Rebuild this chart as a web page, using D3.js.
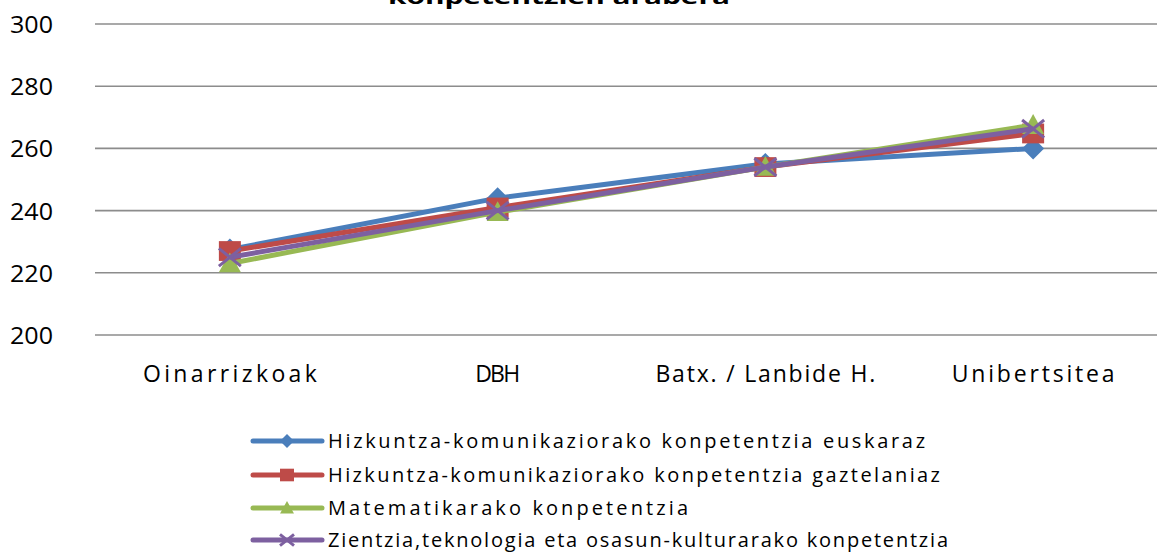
<!DOCTYPE html>
<html>
<head>
<meta charset="utf-8">
<script src="https://cdn.jsdelivr.net/npm/d3@7"></script>
<style>
  body { margin: 0; background: #fff; }
  text { font-family: "Open Sans", "Noto Sans", sans-serif; fill: #000; }
</style>
</head>
<body>
<div id="chart"></div>
<script>
const categories = ['Oinarrizkoak', 'DBH', 'Batx. / Lanbide H.', 'Unibertsitea']
const seriesNames = [
    'Hizkuntza-komunikaziorako konpetentzia euskaraz',
    'Hizkuntza-komunikaziorako konpetentzia gaztelaniaz',
    'Matematikarako konpetentzia',
    'Zientzia,teknologia eta osasun-kulturarako konpetentzia'
]
const euskaraz = [227.5, 244, 255, 260]
const gaztelaniaz = [227, 241, 254, 264.8]
const matematika = [223, 239.5, 254, 267.5]
const zientzia = [225, 240, 254, 266.3]
const yTicks = [200, 220, 240, 260, 280, 300]
const title = 'konpetentzien arabera'

const colors = ['#4a7ebb', '#be4b48', '#98b954', '#7d60a0']
const markers = ['diamond', 'square', 'triangle', 'cross']
const allSeries = [euskaraz, gaztelaniaz, matematika, zientzia]

const width = 1157, height = 554
const svg = d3.select('#chart').append('svg')
    .attr('width', width)
    .attr('height', height)

const x = d3.scaleBand().domain(categories).range([96, 1167])
const y = d3.scaleLinear().domain([200, 300]).range([335, 24])

// title (only its lower part shows)
svg.append('text')
    .attr('x', 559)
    .attr('y', 4)
    .attr('text-anchor', 'middle')
    .style('font-size', '20px')
    .style('font-weight', 'bold')
    .attr('textLength', 342)
    .attr('lengthAdjust', 'spacingAndGlyphs')
    .text(title)

// grid
svg.append('g')
    .selectAll('line')
    .data(yTicks)
    .join('line')
    .attr('x1', 95)
    .attr('x2', width)
    .attr('y1', d => y(d))
    .attr('y2', d => y(d))
    .attr('stroke', '#8c8c8c')
    .attr('stroke-width', 1.6)

// y axis labels
const yAxis = d3.axisLeft(y).tickValues(yTicks).tickSize(0).tickPadding(0)
svg.append('g')
    .attr('transform', 'translate(53,0)')
    .call(yAxis)
    .call(g => g.select('.domain').remove())
    .selectAll('text')
    .style('font-size', '24px')
    .style('font-family', '"Open Sans", sans-serif')
    .attr('textLength', 43)
    .attr('lengthAdjust', 'spacingAndGlyphs')
    .attr('dy', '0.35em')

// x axis labels
const xLabelWidths = [174, 45, 220, 163]
const xAxis = d3.axisBottom(x).tickSize(0).tickPadding(0)
svg.append('g')
    .attr('transform', 'translate(0,366)')
    .call(xAxis)
    .call(g => g.select('.domain').remove())
    .selectAll('text')
    .style('font-size', '23px')
    .style('font-family', '"Open Sans", sans-serif')
    .attr('textLength', (d, i) => xLabelWidths[i])
    .attr('lengthAdjust', 'spacing')

function drawMarker(g, type, cx, cy, s, color) {
    if (type == 'diamond') {
        g.append('path')
            .attr('d', `M${cx},${cy - s}L${cx + s},${cy}L${cx},${cy + s}L${cx - s},${cy}Z`)
            .attr('fill', color)
    } else if (type == 'square') {
        g.append('rect')
            .attr('x', cx - s).attr('y', cy - s * 0.9)
            .attr('width', s * 2).attr('height', s * 1.8)
            .attr('fill', color)
    } else if (type == 'triangle') {
        g.append('path')
            .attr('d', `M${cx},${cy - s}L${cx + s},${cy + s * 0.8}L${cx - s},${cy + s * 0.8}Z`)
            .attr('fill', color)
    } else {
        g.append('path')
            .attr('d', `M${cx - s},${cy - s * 0.8}L${cx + s},${cy + s * 0.8}M${cx - s},${cy + s * 0.8}L${cx + s},${cy - s * 0.8}`)
            .attr('stroke', color)
            .attr('stroke-width', 3)
            .attr('fill', 'none')
    }
}

// lines + markers
const line = d3.line()
    .x((d, i) => x(categories[i]) + x.bandwidth() / 2)
    .y(d => y(d))
allSeries.forEach((vals, k) => {
    const g = svg.append('g')
    g.append('path')
        .datum(vals)
        .attr('d', line)
        .attr('fill', 'none')
        .attr('stroke', colors[k])
        .attr('stroke-width', 5)
        .attr('stroke-linejoin', 'round')
    vals.forEach((v, i) => {
        drawMarker(g, markers[k], x(categories[i]) + x.bandwidth() / 2, y(v), 11, colors[k])
    })
})

// legend
const legendY = [441, 475, 508, 540]
const legendWidths = [597, 612, 360, 620]
seriesNames.forEach((name, k) => {
    const g = svg.append('g').attr('transform', `translate(0,${legendY[k]})`)
    g.append('line')
        .attr('x1', 253).attr('x2', 322)
        .attr('y1', 0).attr('y2', 0)
        .attr('stroke', colors[k])
        .attr('stroke-width', 5)
        .attr('stroke-linecap', 'round')
    drawMarker(g, markers[k], 287, 0, 7, colors[k])
    g.append('text')
        .attr('x', 328)
        .attr('y', 0)
        .attr('dy', '0.35em')
        .style('font-size', '20px')
        .attr('textLength', legendWidths[k])
        .attr('lengthAdjust', 'spacing')
        .text(name)
})
</script>
</body>
</html>
